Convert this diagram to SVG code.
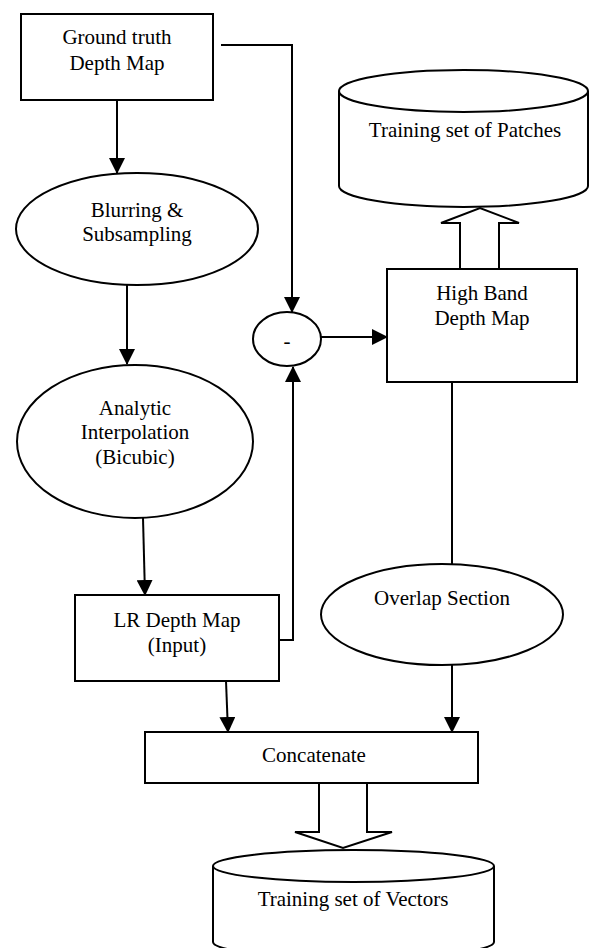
<svg xmlns="http://www.w3.org/2000/svg" width="590" height="948" viewBox="0 0 590 948">
<style>
.n{fill:#fff;stroke:#000;stroke-width:2}
.t{font-family:"Liberation Serif","Times New Roman",serif;font-size:21px;fill:#000;text-anchor:middle}
.c{fill:none;stroke:#000;stroke-width:2}
.a{marker-end:url(#ah)}
</style>
<defs>
<marker id="ah" markerUnits="userSpaceOnUse" markerWidth="16" markerHeight="16" refX="15" refY="8" orient="auto">
<path d="M0,0 L16,8 L0,16 Z" fill="#000"/>
</marker>
</defs>
<rect width="590" height="948" fill="#fff"/>
<g id="connectors">
<path class="c a" d="M117,100 L117,173"/>
<path class="c a" d="M221,45 H292 V312"/>
<path class="c a" d="M127,285 V364"/>
<path class="c a" d="M143,518 L145,595"/>
<path class="c a" d="M279,640 H293 V367"/>
<path class="c a" d="M321,337 H387"/>
<path class="c" d="M452,382 V564"/>
<path class="c a" d="M226,681 L228,732"/>
<path class="c a" d="M452,665 V732"/>
<polygon class="n" points="460,269 460,223 441,223 480,208 519,223 499,223 499,269"/>
<polygon class="n" points="319,783 319,832 295,832 343,848 392,832 367,832 367,783"/>
</g>
<g id="ground-truth">
<rect class="n" x="21" y="14" width="192" height="86"/>
<text class="t" x="117" y="44">Ground truth</text>
<text class="t" x="117" y="70">Depth Map</text>
</g>
<g id="blurring">
<ellipse class="n" cx="137" cy="229" rx="121" ry="56"/>
<text class="t" x="137" y="217">Blurring &amp;</text>
<text class="t" x="137" y="241">Subsampling</text>
</g>
<g id="interpolation">
<ellipse class="n" cx="135" cy="441.5" rx="118" ry="76.5"/>
<text class="t" x="135" y="415">Analytic</text>
<text class="t" x="135" y="439">Interpolation</text>
<text class="t" x="135" y="464">(Bicubic)</text>
</g>
<g id="lr-depth-map">
<rect class="n" x="75" y="595" width="204" height="86"/>
<text class="t" x="177" y="627">LR Depth Map</text>
<text class="t" x="177" y="652">(Input)</text>
</g>
<g id="minus">
<ellipse class="n" cx="287" cy="339" rx="34" ry="27"/>
<text class="t" x="287" y="348">-</text>
</g>
<g id="high-band">
<rect class="n" x="387" y="269" width="190" height="113"/>
<text class="t" x="482" y="300">High Band</text>
<text class="t" x="482" y="325">Depth Map</text>
</g>
<g id="patches">
<path class="n" d="M339,91 L339,186 A124.5,21 0 0 0 588,186 L588,91"/>
<ellipse class="n" cx="463.5" cy="91" rx="124.5" ry="21"/>
<text class="t" x="465" y="137">Training set of Patches</text>
</g>
<g id="overlap">
<ellipse class="n" cx="442" cy="614.5" rx="121" ry="50.5"/>
<text class="t" x="442" y="605">Overlap Section</text>
</g>
<g id="concatenate">
<rect class="n" x="145" y="732" width="333" height="51"/>
<text class="t" x="314" y="762">Concatenate</text>
</g>
<g id="vectors">
<path class="n" d="M213,866 L213,942 A140.5,16 0 0 0 494,942 L494,866"/>
<ellipse class="n" cx="353.5" cy="866" rx="140.5" ry="16"/>
<text class="t" x="353" y="906">Training set of Vectors</text>
</g>
</svg>
